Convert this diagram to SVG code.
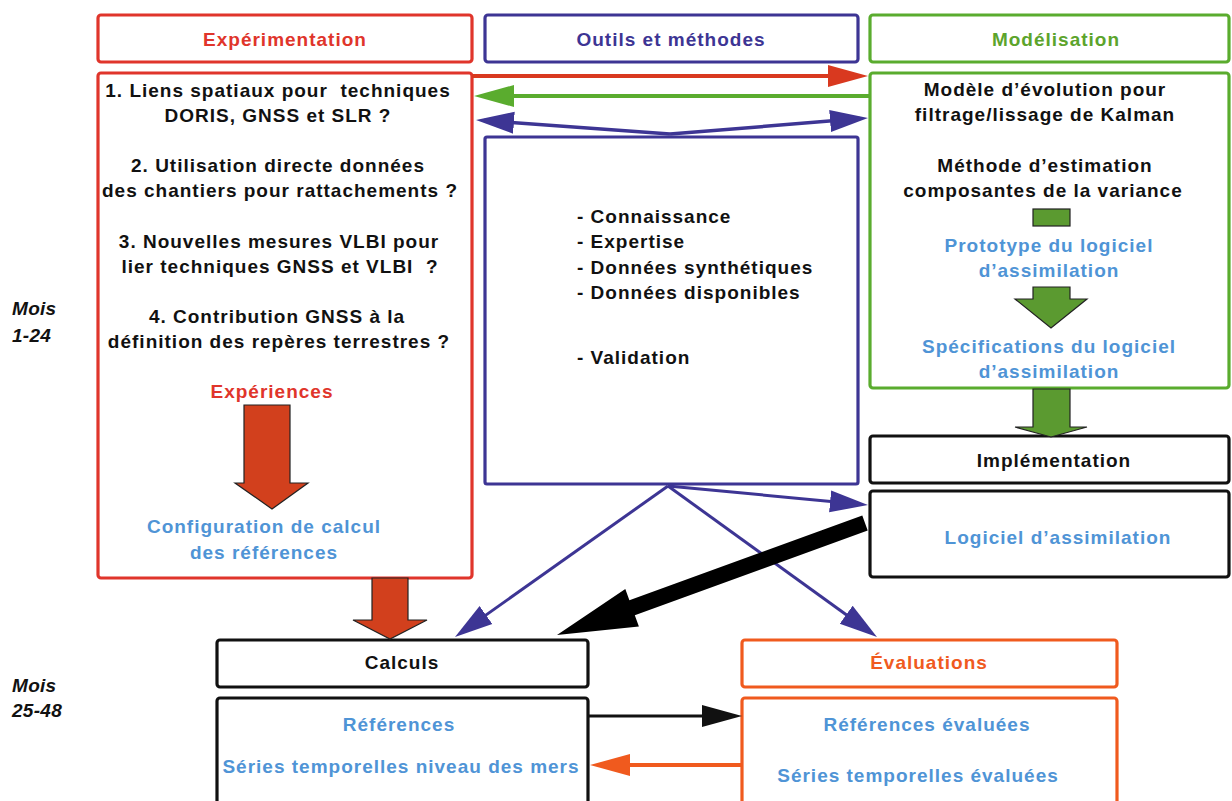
<svg xmlns="http://www.w3.org/2000/svg" width="1232" height="801" viewBox="0 0 1232 801">
<style>
text{font-family:"Liberation Sans",Arial,sans-serif;font-weight:bold;font-size:19px;letter-spacing:1px}
.c{text-anchor:middle}
.k{fill:#111}
.red{fill:#e0352b}
.pur{fill:#3d3594}
.grn{fill:#5ca42c}
.blu{fill:#4f94d6}
.org{fill:#f05a1e}
.it{font-style:italic;letter-spacing:0.3px}
.box{fill:#fff;stroke-width:3.2}
.bR{stroke:#e0352b}.bP{stroke:#3d3594}.bG{stroke:#5aac2e}.bK{stroke:#111}.bO{stroke:#f05a1e}
.ln{fill:none}
.bigR{fill:#d2401d;stroke:#222;stroke-width:1.2}
.bigG{fill:#5b9a30;stroke:#222;stroke-width:1.2}
</style>
<defs>
<marker id="hR" markerUnits="userSpaceOnUse" markerWidth="40" markerHeight="24" refX="32" refY="12" orient="auto"><path d="M0,1 L40,12 L0,23 z" fill="#d9391f"/></marker>
<marker id="hG" markerUnits="userSpaceOnUse" markerWidth="40" markerHeight="24" refX="32" refY="12" orient="auto"><path d="M0,1 L40,12 L0,23 z" fill="#5aac2e"/></marker>
<marker id="hP" markerUnits="userSpaceOnUse" markerWidth="38" markerHeight="24" refX="30" refY="12" orient="auto"><path d="M0,1 L38,12 L0,23 z" fill="#3d3594"/></marker>
<marker id="hK" markerUnits="userSpaceOnUse" markerWidth="40" markerHeight="24" refX="32" refY="12" orient="auto"><path d="M0,1 L40,12 L0,23 z" fill="#111"/></marker>
<marker id="hO" markerUnits="userSpaceOnUse" markerWidth="40" markerHeight="24" refX="32" refY="12" orient="auto"><path d="M0,1 L40,12 L0,23 z" fill="#f05a1e"/></marker>
</defs>

<g id="mois1"><text class="k it" x="12" y="315">Mois</text><text class="k it" x="12" y="342">1-24</text></g>
<g id="mois2"><text class="k it" x="12" y="692">Mois</text><text class="k it" x="12" y="717">25-48</text></g>

<g id="h-experimentation"><rect class="box bR" x="98" y="15" width="374" height="47" rx="3"/><text class="c red" x="285" y="46">Expérimentation</text></g>
<g id="h-outils"><rect class="box bP" x="485" y="15" width="373" height="47" rx="3"/><text class="c pur" x="671" y="46">Outils et méthodes</text></g>
<g id="h-modelisation"><rect class="box bG" x="870" y="15" width="359" height="47" rx="3"/><text class="c grn" x="1056" y="46">Modélisation</text></g>

<g id="experimentation">
<rect class="box bR" x="98" y="73" width="374" height="505" rx="3"/>
<text class="c k" x="278" y="97" xml:space="preserve">1. Liens spatiaux pour  techniques</text>
<text class="c k" x="278" y="122">DORIS, GNSS et SLR ?</text>
<text class="c k" x="278" y="172">2. Utilisation directe données</text>
<text class="c k" x="280" y="197">des chantiers pour rattachements ?</text>
<text class="c k" x="279" y="248">3. Nouvelles mesures VLBI pour</text>
<text class="c k" x="280" y="273" xml:space="preserve">lier techniques GNSS et VLBI  ?</text>
<text class="c k" x="277" y="323">4. Contribution GNSS à la</text>
<text class="c k" x="279" y="348">définition des repères terrestres ?</text>
<text class="c red" x="272" y="398">Expériences</text>
<polygon class="bigR" points="244,405 290,405 290,483 308,483 272,509 235,483 244,483"/>
<text class="c blu" x="264" y="533">Configuration de calcul</text>
<text class="c blu" x="264" y="559">des références</text>
</g>

<g id="outils">
<rect class="box bP" x="485" y="137" width="373" height="347" rx="2"/>
<text class="k" x="577" y="223">- Connaissance</text>
<text class="k" x="577" y="248">- Expertise</text>
<text class="k" x="577" y="274">- Données synthétiques</text>
<text class="k" x="577" y="299">- Données disponibles</text>
<text class="k" x="577" y="364">- Validation</text>
</g>

<g id="modelisation">
<rect class="box bG" x="870" y="73" width="359" height="315" rx="3"/>
<text class="c k" x="1045" y="96">Modèle d’évolution pour</text>
<text class="c k" x="1045" y="121">filtrage/lissage de Kalman</text>
<text class="c k" x="1045" y="172">Méthode d’estimation</text>
<text class="c k" x="1043" y="197">composantes de la variance</text>
<rect class="bigG" x="1033" y="209" width="37" height="17"/>
<text class="c blu" x="1049" y="252">Prototype du logiciel</text>
<text class="c blu" x="1049" y="277">d’assimilation</text>
<polygon class="bigG" points="1033,287 1070,287 1070,299 1087,299 1051,328 1015,299 1033,299"/>
<text class="c blu" x="1049" y="353">Spécifications du logiciel</text>
<text class="c blu" x="1049" y="378">d’assimilation</text>
</g>

<g id="implementation"><rect class="box bK" x="870" y="436" width="359" height="47" rx="3"/><text class="c k" x="1054" y="467">Implémentation</text></g>
<g id="logiciel"><rect class="box bK" x="870" y="491" width="359" height="86" rx="3"/><text class="c blu" x="1058" y="544">Logiciel d’assimilation</text></g>

<g id="calculs"><rect class="box bK" x="217" y="640" width="371" height="47" rx="3"/><text class="c k" x="402" y="669">Calculs</text></g>
<g id="references"><rect class="box bK" x="217" y="698" width="371" height="120" rx="3"/><text class="c blu" x="399" y="731">Références</text><text class="c blu" x="401" y="773">Séries temporelles niveau des mers</text></g>

<g id="evaluations"><rect class="box bO" x="742" y="640" width="375" height="47" rx="3"/><text class="c org" x="929" y="669">Évaluations</text></g>
<g id="evaluees"><rect class="box bO" x="742" y="698" width="375" height="120" rx="3"/><text class="c blu" x="927" y="731">Références évaluées</text><text class="c blu" x="918" y="782">Séries temporelles évaluées</text></g>

<g id="connectors">
<path class="ln" d="M472,76 L860,76" stroke="#d9391f" stroke-width="4" marker-end="url(#hR)"/>
<path class="ln" d="M870,96 L482,96" stroke="#5aac2e" stroke-width="4" marker-end="url(#hG)"/>
<path class="ln" d="M670,134 L484,120.6" stroke="#3d3594" stroke-width="3.5" marker-end="url(#hP)"/>
<path class="ln" d="M670,134 L860,118.6" stroke="#3d3594" stroke-width="3.5" marker-end="url(#hP)"/>
<path class="ln" d="M668,486 L461.5,632.4" stroke="#3d3594" stroke-width="3" marker-end="url(#hP)"/>
<path class="ln" d="M668,486 L870.5,632.3" stroke="#3d3594" stroke-width="3" marker-end="url(#hP)"/>
<path class="ln" d="M668,486 L860,504.2" stroke="#3d3594" stroke-width="3" marker-end="url(#hP)"/>
<polygon points="862.3,515.5 629.4,600.2 625.3,588.9 557,635 638.9,626.5 634.8,615.2 867.7,530.5" fill="#000"/>
<polygon class="bigR" points="372,578 408,578 408,620 427,620 390,639 353,620 372,620"/>
<polygon class="bigG" points="1033,389 1070,389 1070,427 1087,427 1051,437 1015,427 1033,427"/>
<path class="ln" d="M588,716 L734,716" stroke="#111" stroke-width="3" marker-end="url(#hK)"/>
<path class="ln" d="M742,765 L598,765" stroke="#f05a1e" stroke-width="4" marker-end="url(#hO)"/>
</g>
</svg>
